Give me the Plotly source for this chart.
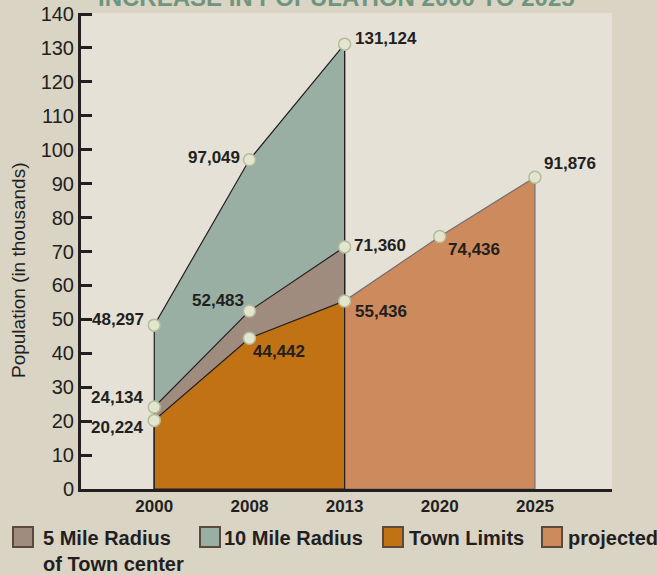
import plotly.graph_objects as go

years = ["2000", "2008", "2013", "2020", "2025"]
town_limits = [20224, 44442, 55436]
mile5 = [24134, 52483, 71360]
mile10 = [48297, 97049, 131124]
projected = [55436, 74436, 91876]
proj_years = ["2013", "2020", "2025"]
y_ticks = list(range(0, 141, 10))

FONT = "Liberation Sans, Arial"
DARK = "#231f20"
C10 = "#99afa3"
C5 = "#a08c7f"
CTOWN = "#c17214"
CPROJ = "#cd8a5d"
BG = "#dad4c4"

xi = {y: i for i, y in enumerate(years)}

def poly(xs, vals):
    px = [xi[xs[0]]] + [xi[x] for x in xs] + [xi[xs[-1]], xi[xs[0]]]
    py = [0] + [v / 1000 for v in vals] + [0, 0]
    return px, py

fig = go.Figure()
for vals, col, lc, xs in [(mile10, C10, DARK, years[:3]), (mile5, C5, DARK, years[:3]),
                          (town_limits, CTOWN, DARK, years[:3]), (projected, CPROJ, "#707070", proj_years)]:
    px, py = poly(xs, vals)
    fig.add_trace(go.Scatter(x=px, y=py, fill="toself", fillcolor=col, mode="lines",
                             line=dict(color=lc, width=1.2), showlegend=False, hoverinfo="skip"))

# dark vertical edge at 2013 over the projected area
fig.add_trace(go.Scatter(x=[xi["2013"], xi["2013"]], y=[0, mile10[2] / 1000], mode="lines",
                         line=dict(color=DARK, width=1.2), showlegend=False, hoverinfo="skip"))

# markers
mx, my, labels = [], [], []
for vals, xs in [(mile10, years[:3]), (mile5, years[:3]), (town_limits, years[:3]), (projected[1:], proj_years[1:])]:
    for x, v in zip(xs, vals):
        mx.append(xi[x]); my.append(v / 1000); labels.append((x, v))
fig.add_trace(go.Scatter(x=mx, y=my, mode="markers",
                         marker=dict(size=12, color="#e3e5cf", line=dict(color="#b5bc9c", width=1.5)),
                         showlegend=False, hoverinfo="skip"))

# label offsets (xshift, yshift, xanchor)
offsets = {
    ("2000", 48297): (-8, 6, "right"),
    ("2000", 24134): (-8, 10, "right"),
    ("2000", 20224): (-8, -7, "right"),
    ("2008", 97049): (-7, 2, "right"),
    ("2008", 52483): (-3, 10, "right"),
    ("2008", 44442): (2, -13, "left"),
    ("2013", 131124): (8, 6, "left"),
    ("2013", 71360): (7, 1, "left"),
    ("2013", 55436): (8, -11, "left"),
    ("2020", 74436): (6, -13, "left"),
    ("2025", 91876): (7, 14, "left"),
}
for (x, v) in labels:
    dx, dy, xa = offsets[(x, v)]
    fig.add_annotation(x=xi[x], y=v / 1000, text=f"{v:,}", showarrow=False, xshift=dx, yshift=dy,
                       xanchor=xa, yanchor="middle", font=dict(family=FONT, size=17, color=DARK, weight="bold"))

W, H, L, R, T, B = 657, 575, 81, 45, 13, 86
pw, ph = W - L - R, H - T - B
def pxx(p): return (p - L) / pw
def pxy(p): return (H - B - p) / ph

# legend (manual)
legend_items = [("5 Mile Radius<br>of Town center", C5), ("10 Mile Radius", C10),
                ("Town Limits", CTOWN), ("projected", CPROJ)]
leg_sq = [13, 200, 383, 542]
leg_tx = [41, 222, 407, 566]
for (name, col), sx, tx in zip(legend_items, leg_sq, leg_tx):
    fig.add_shape(type="rect", xref="paper", yref="paper", x0=pxx(sx), x1=pxx(sx + 20),
                  y0=pxy(547), y1=pxy(527), fillcolor=col, line=dict(color="#5b4a3c", width=2))
    fig.add_annotation(xref="paper", yref="paper", x=pxx(tx), y=pxy(525), xanchor="left", yanchor="top",
                       text=name, showarrow=False, align="left",
                       font=dict(family=FONT, size=20, color=DARK, weight="bold"))

# title (cut off at top as in reference)
fig.add_annotation(xref="paper", yref="paper", x=pxx(336), y=pxy(13), xanchor="center", yanchor="bottom",
                   text="INCREASE IN POPULATION 2000 TO 2025", showarrow=False,
                   font=dict(family=FONT, size=24, color="#6e9580", weight="bold"))

# y axis title
fig.add_annotation(xref="paper", yref="paper", x=pxx(18), y=pxy(271), xanchor="center", yanchor="middle",
                   text="Population (in thousands)", textangle=-90, showarrow=False,
                   font=dict(family=FONT, size=19, color=DARK))

fig.update_layout(
    width=W, height=H, margin=dict(l=L, r=R, t=T, b=B),
    paper_bgcolor=BG, plot_bgcolor="#e5e1d7",
    font=dict(family=FONT, color=DARK),
    xaxis=dict(range=[-0.77, 4.81], tickmode="array", tickvals=list(range(len(years))), ticktext=years,
               showgrid=False, zeroline=False, showline=True, linecolor=DARK, linewidth=3, automargin=False,
               ticks="", tickfont=dict(size=17, weight="bold", family=FONT), fixedrange=True),
    yaxis=dict(range=[0, 140.3], tickmode="array", tickvals=y_ticks, showgrid=False, zeroline=False,
               showline=True, linecolor=DARK, linewidth=3, ticks="inside", ticklen=11, tickwidth=2.5,
               tickcolor=DARK, tickfont=dict(size=20, family=FONT), automargin=False),
    showlegend=False,
)
fig.write_html("out.html", config={"displayModeBar": False},
               post_script="document.body.style.margin='0';document.body.style.background='" + BG + "';")
